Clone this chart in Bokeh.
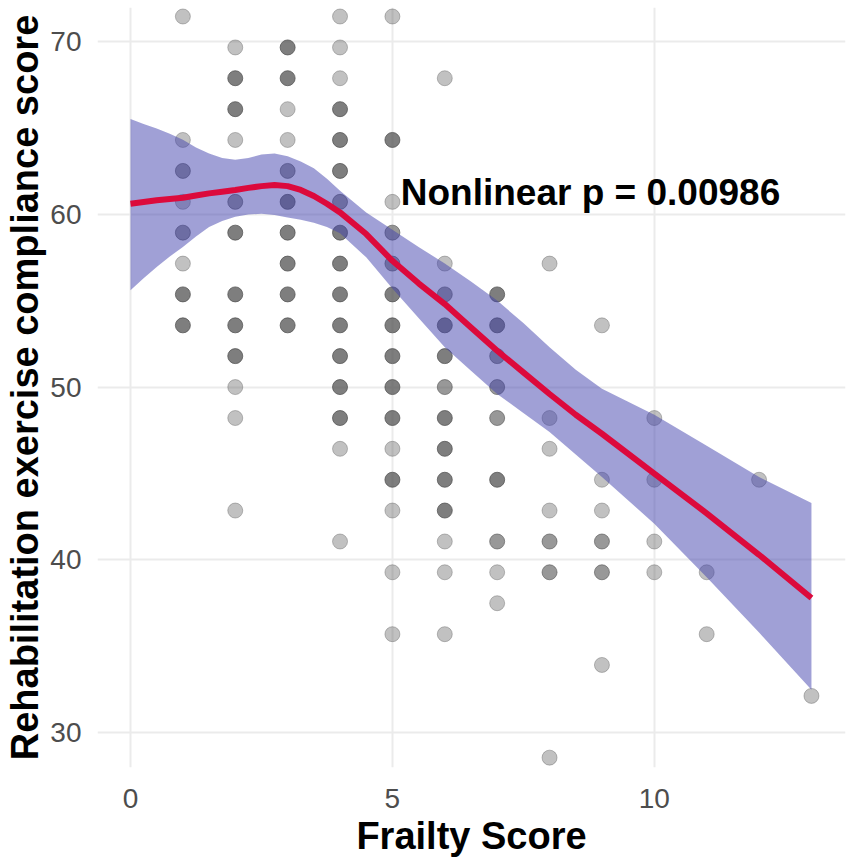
# Frailty score vs rehabilitation exercise compliance, with a smooth fit
from bokeh.plotting import figure
from bokeh.models import Range1d, FixedTicker, Label, ColumnDataSource
from bokeh.embed import file_html
from bokeh.resources import INLINE

# observed points: frailty score, compliance score, how many patients share the spot
frailty = [
    1, 1, 1, 1, 1, 1, 1, 1,
    2, 2, 2, 2, 2, 2, 2, 2, 2, 2, 2, 2,
    3, 3, 3, 3, 3, 3, 3, 3, 3, 3,
    4, 4, 4, 4, 4, 4, 4, 4, 4, 4, 4, 4, 4, 4, 4, 4,
    5, 5, 5, 5, 5, 5, 5, 5, 5, 5, 5, 5, 5, 5, 5,
    6, 6, 6, 6, 6, 6, 6, 6, 6, 6, 6, 6, 6,
    7, 7, 7, 7, 7, 7, 7, 7, 7,
    8, 8, 8, 8, 8, 8, 8,
    9, 9, 9, 9, 9, 9,
    10, 10, 10, 10,
    11, 11,
    12,
    13,
]
compliance = [
    71.43, 64.29, 62.50, 60.71, 58.93, 57.14, 55.36, 53.57,
    69.64, 67.86, 66.07, 64.29, 60.71, 58.93, 55.36, 53.57, 51.79, 50.00, 48.21, 42.86,
    69.64, 67.86, 66.07, 64.29, 62.50, 60.71, 58.93, 57.14, 55.36, 53.57,
    71.43, 69.64, 67.86, 66.07, 64.29, 62.50, 60.71, 58.93, 57.14, 55.36, 53.57, 51.79,
    50.00, 48.21, 46.43, 41.07,
    71.43, 64.29, 60.71, 58.93, 57.14, 55.36, 53.57, 51.79, 50.00, 48.21, 46.43, 44.64,
    42.86, 39.29, 35.71,
    67.86, 57.14, 55.36, 53.57, 51.79, 50.00, 48.21, 46.43, 44.64, 42.86, 41.07, 39.29, 35.71,
    55.36, 53.57, 51.79, 50.00, 48.21, 44.64, 41.07, 39.29, 37.50,
    57.14, 48.21, 46.43, 42.86, 41.07, 39.29, 28.57,
    53.57, 44.64, 42.86, 41.07, 39.29, 33.93,
    48.21, 44.64, 41.07, 39.29,
    39.29, 35.71,
    44.64,
    32.14,
]
overlap = [
    1, 1, 2, 1, 2, 1, 3, 3,
    1, 3, 3, 1, 2, 3, 3, 3, 3, 1, 1, 1,
    3, 3, 1, 1, 2, 3, 3, 3, 3, 3,
    1, 1, 1, 3, 3, 3, 2, 3, 3, 3, 3, 3, 3, 3, 1, 1,
    1, 3, 1, 2, 2, 3, 3, 3, 3, 3, 1, 3, 1, 1, 1,
    1, 1, 2, 3, 3, 2, 3, 3, 3, 3, 1, 1, 1,
    3, 3, 2, 2, 2, 3, 2, 1, 1,
    1, 1, 1, 1, 2, 2, 1,
    1, 1, 1, 2, 2, 1,
    1, 1, 1, 1,
    1, 1,
    1,
    1,
]

# smooth fit and its confidence band
fit_x = [0, 0.25, 0.5, 0.75, 1, 1.25, 1.5, 1.75, 2, 2.25, 2.5, 2.75, 3, 3.25, 3.5, 3.75,
         4, 4.5, 5, 5.5, 6, 6.5, 7, 7.5, 8, 8.5, 9, 10, 11, 12, 13]
fit_y = [60.6, 60.7, 60.8, 60.88, 60.95, 61.08, 61.2, 61.3, 61.4, 61.52, 61.62, 61.68, 61.62,
         61.4, 61.05, 60.6, 60.1, 58.85, 57.3, 56.0, 54.8, 53.45, 52.1, 50.85, 49.6, 48.4,
         47.3, 45.0, 42.7, 40.3, 37.8]
fit_upper = [65.5, 65.22, 64.95, 64.65, 64.3, 63.85, 63.5, 63.25, 63.15, 63.25, 63.45, 63.5,
             63.35, 63.05, 62.65, 62.05, 61.35, 60.1, 59.1, 58.1, 57.15, 56.1, 55.0, 53.7,
             52.3, 51.0, 49.9, 48.4, 46.6, 44.8, 43.3]
fit_lower = [55.6, 56.3, 56.95, 57.55, 58.1, 58.7, 59.25, 59.6, 59.85, 59.98, 60.02, 59.95,
             59.8, 59.68, 59.5, 59.25, 58.9, 57.5, 55.7, 54.0, 52.3, 50.95, 49.6, 48.5, 47.4,
             46.1, 44.8, 42.1, 39.0, 35.8, 32.5]

x_ticks = [0, 5, 10]
y_ticks = [30, 40, 50, 60, 70]
annotation = "Nonlinear p = 0.00986"

FONT = "Liberation Sans"

p = figure(width=851, height=865,
           x_range=Range1d(-0.63, 13.65), y_range=Range1d(28.0, 71.95),
           output_backend="svg", toolbar_location=None,
           min_border_left=97, min_border_right=6, min_border_top=7, min_border_bottom=98)
p.outline_line_color = None
p.background_fill_color = "white"

# points, darker where several patients overlap
pts = ColumnDataSource(data=dict(
    x=frailty, y=compliance,
    alpha=[1 - 0.65 ** n for n in overlap],
))
p.scatter("x", "y", source=pts, size=15, fill_color="#4d4d4d", fill_alpha="alpha",
          line_color="#4d4d4d", line_alpha="alpha", line_width=1)

# confidence ribbon and fitted curve
p.varea(x=fit_x, y1=fit_lower, y2=fit_upper, fill_color="#4141ad", fill_alpha=0.5)
p.line(fit_x, fit_y, line_color="#dc0a3c", line_width=6)

p.add_layout(Label(x=5.16, y=61.28, text=annotation, text_font=FONT,
                   text_font_size="37px", text_font_style="bold", text_color="black",
                   text_baseline="alphabetic"))

# axes in a ggplot minimal style
p.xaxis.ticker = FixedTicker(ticks=x_ticks)
p.yaxis.ticker = FixedTicker(ticks=y_ticks)
p.xgrid.ticker = FixedTicker(ticks=x_ticks)
p.ygrid.ticker = FixedTicker(ticks=y_ticks)
p.grid.grid_line_color = "#ebebeb"
p.grid.grid_line_width = 2

p.xaxis.axis_label = "Frailty Score"
p.yaxis.axis_label = "Rehabilitation exercise compliance score"
for ax in (p.xaxis, p.yaxis):
    ax.axis_line_color = None
    ax.major_tick_line_color = None
    ax.minor_tick_line_color = None
    ax.major_label_text_font = FONT
    ax.major_label_text_font_size = "28px"
    ax.major_label_text_color = "#4d4d4d"
    ax.axis_label_text_font = FONT
    ax.axis_label_text_font_size = "38px"
    ax.axis_label_text_font_style = "bold"
    ax.axis_label_text_color = "black"
p.xaxis.major_label_standoff = 15
p.xaxis.axis_label_standoff = 4
p.yaxis.major_label_standoff = 10
p.yaxis.axis_label_standoff = 1

open("out.html", "w").write(file_html(p, INLINE))
